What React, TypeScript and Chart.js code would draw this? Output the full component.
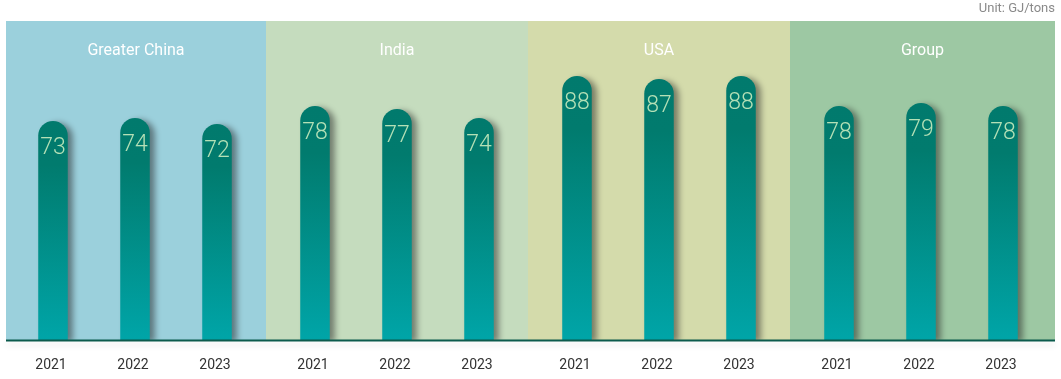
import React, { useEffect, useRef } from "react";
import { Chart, registerables } from "chart.js";

Chart.register(...registerables);

const regions = ["Greater China", "India", "USA", "Group"];
const years = ["2021", "2022", "2023"];
const values2021 = [73, 78, 88, 78];
const values2022 = [74, 77, 87, 79];
const values2023 = [72, 74, 88, 78];
const panelColors = ["#9bd0dc", "#c5dcbe", "#d4dbab", "#9dc8a3"];
const unitLabel = "Unit: GJ/tons";

const FONT = "Roboto, 'Noto Sans', sans-serif";

const decorPlugin = {
  id: "decor",
  beforeDraw(chart: any) {
    const { ctx, chartArea } = chart;
    const n = regions.length;
    const step = (chartArea.right - chartArea.left) / n;
    ctx.save();
    for (let i = 0; i < n; i++) {
      let l = chartArea.left + step * i;
      let r = l + step;
      if (i === 0) l = 6;
      if (i === n - 1) r = 1055;
      ctx.fillStyle = panelColors[i];
      ctx.fillRect(l, 21, r - l, chartArea.bottom - 21);
      ctx.fillStyle = "#ffffff";
      ctx.font = `400 16px ${FONT}`;
      ctx.textAlign = "center";
      ctx.textBaseline = "middle";
      ctx.fillText(regions[i], (l + r) / 2, 51);
    }
    ctx.restore();
  },
  beforeDatasetsDraw(chart: any) {
    const ctx = chart.ctx;
    ctx.save();
    ctx.shadowColor = "rgba(30,30,30,0.5)";
    ctx.shadowOffsetX = 5;
    ctx.shadowOffsetY = 2;
    ctx.shadowBlur = 6;
  },
  afterDatasetsDraw(chart: any) {
    const { ctx, chartArea } = chart;
    ctx.restore();
    ctx.save();
    ctx.shadowColor = "rgba(0,0,0,0.12)";
    ctx.shadowBlur = 6;
    ctx.shadowOffsetY = 4;
    ctx.strokeStyle = "#0b5a4c";
    ctx.lineWidth = 2;
    ctx.beginPath();
    ctx.moveTo(6, chartArea.bottom + 0.5);
    ctx.lineTo(1055, chartArea.bottom + 0.5);
    ctx.stroke();
    ctx.restore();

    ctx.save();
    chart.data.datasets.forEach((ds: any, di: number) => {
      const meta = chart.getDatasetMeta(di);
      meta.data.forEach((el: any, i: number) => {
        ctx.fillStyle = "#b4e0b6";
        ctx.font = `300 23px ${FONT}`;
        ctx.textAlign = "center";
        ctx.textBaseline = "middle";
        ctx.fillText(String(ds.data[i]), el.x, el.y + 27);
        ctx.fillStyle = "#333333";
        ctx.font = `400 14px ${FONT}`;
        ctx.fillText(years[di], el.x - 2, 365);
      });
    });
    ctx.fillStyle = "#8a8a8a";
    ctx.font = `400 13px ${FONT}`;
    ctx.textAlign = "right";
    ctx.textBaseline = "middle";
    ctx.fillText(unitLabel, 1055, 9);
    ctx.restore();
  },
};

function barGradient(c: any) {
  const chart = c.chart;
  const { chartArea, scales } = chart;
  if (!chartArea || c.raw == null) return "#008a80";
  const top = scales.y.getPixelForValue(c.raw);
  const bottom = scales.y.getPixelForValue(0);
  const g = chart.ctx.createLinearGradient(0, top, 0, bottom);
  g.addColorStop(0, "#017a6d");
  g.addColorStop(0.2, "#017b6e");
  g.addColorStop(1, "#00a5a8");
  return g;
}

export default function App() {
  const ref = useRef<HTMLCanvasElement>(null);
  useEffect(() => {
    if (!ref.current) return;
    const series = [values2021, values2022, values2023];
    const chart = new Chart(ref.current, {
      type: "bar",
      data: {
        labels: regions,
        datasets: series.map((vals, i) => ({
          label: years[i],
          data: vals,
          backgroundColor: barGradient,
          borderRadius: 15,
          borderSkipped: "start",
          categoryPercentage: 0.939,
          barPercentage: 0.36,
        })),
      },
      options: {
        responsive: false,
        animation: false,
        layout: { padding: { left: 4, right: 9, top: 40, bottom: 39 } },
        plugins: {
          legend: { display: false },
          tooltip: { enabled: false },
        },
        scales: {
          x: { display: false, grid: { display: false } },
          y: { display: false, min: 0, max: 100 },
        },
      },
      plugins: [decorPlugin],
    });
    return () => chart.destroy();
  }, []);
  return (
    <div style={{ position: "fixed", left: 0, top: 0, width: 1061, height: 379, background: "#fff" }}>
      <canvas ref={ref} width={1061} height={379} style={{ width: 1061, height: 379, display: "block" }} />
    </div>
  );
}
